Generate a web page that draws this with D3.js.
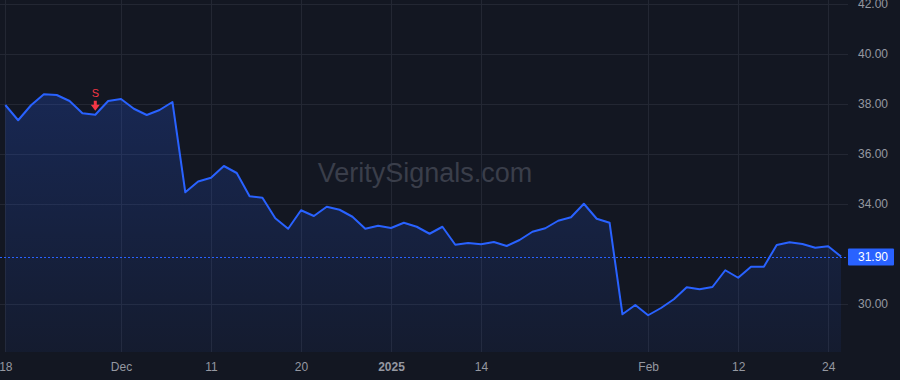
<!DOCTYPE html>
<html>
<head>
<meta charset="utf-8">
<script src="https://cdn.jsdelivr.net/npm/d3@7"></script>
<style>
  body { margin: 0; background: #131722; }
  svg { display: block; }
</style>
</head>
<body>
<div id="chart"></div>
<script>
// trading days shown on the chart
const dates = [
  "2024-11-18","2024-11-19","2024-11-20","2024-11-21","2024-11-22","2024-11-25","2024-11-26","2024-11-27","2024-11-29",
  "2024-12-02","2024-12-03","2024-12-04","2024-12-05","2024-12-06","2024-12-09","2024-12-10","2024-12-11","2024-12-12",
  "2024-12-13","2024-12-16","2024-12-17","2024-12-18","2024-12-19","2024-12-20","2024-12-23","2024-12-24","2024-12-26",
  "2024-12-27","2024-12-30","2024-12-31",
  "2025-01-02","2025-01-03","2025-01-06","2025-01-07","2025-01-08","2025-01-10","2025-01-13","2025-01-14","2025-01-15",
  "2025-01-16","2025-01-17","2025-01-21","2025-01-22","2025-01-23","2025-01-24","2025-01-27","2025-01-28","2025-01-29",
  "2025-01-30","2025-01-31",
  "2025-02-03","2025-02-04","2025-02-05","2025-02-06","2025-02-07","2025-02-10","2025-02-11","2025-02-12","2025-02-13",
  "2025-02-14","2025-02-18","2025-02-19","2025-02-20","2025-02-21","2025-02-24","2025-02-25"
];

const prices = [
  37.96, 37.35, 37.95, 38.39, 38.36, 38.12, 37.63, 37.57, 38.12,
  38.20, 37.81, 37.56, 37.76, 38.08, 34.47, 34.90, 35.05, 35.52,
  35.24, 34.31, 34.25, 33.43, 33.01, 33.75, 33.52, 33.89, 33.77,
  33.49, 33.01, 33.13,
  33.04, 33.25, 33.09, 32.81, 33.09, 32.37, 32.44, 32.39, 32.48,
  32.32, 32.56, 32.89, 33.03, 33.33, 33.47, 34.01, 33.41, 33.25,
  29.59, 29.96,
  29.55, 29.84, 30.19, 30.67, 30.59, 30.68, 31.35, 31.05, 31.49,
  31.49, 32.36, 32.47, 32.40, 32.25, 32.31, 31.90
];

// x-axis tick dates and their labels
const xTickDates = ["2024-11-18","2024-12-02","2024-12-11","2024-12-20","2025-01-02","2025-01-14","2025-02-03","2025-02-12","2025-02-24"];
const xTickLabels = ["18","Dec","11","20","2025","14","Feb","12","24"];

const yTicks = [30, 34, 36, 38, 40, 42];

// sell signal
const signalDates = ["2024-11-27"];
const signalLabels = ["S"];

const lastPrice = prices[prices.length - 1];

const W = 900, H = 380;
const plotRight = 848, plotBottom = 352;

const svg = d3.select("#chart").append("svg")
  .attr("width", W)
  .attr("height", H)
  .style("background", "#131722");

const x = d3.scalePoint()
  .domain(dates)
  .range([5.3, 841]);

const y = d3.scaleLinear()
  .domain([30, 42])
  .range([304, 4]);

const font = "'Liberation Sans', Arial, sans-serif";

// grid
svg.append("g")
  .selectAll("line")
  .data(yTicks)
  .join("line")
    .attr("x1", 0)
    .attr("x2", plotRight)
    .attr("y1", d => Math.round(y(d)) + 0.5)
    .attr("y2", d => Math.round(y(d)) + 0.5)
    .attr("stroke", "#232733");

svg.append("g")
  .selectAll("line")
  .data(xTickDates)
  .join("line")
    .attr("x1", d => Math.round(x(d)) + 0.5)
    .attr("x2", d => Math.round(x(d)) + 0.5)
    .attr("y1", 0)
    .attr("y2", plotBottom)
    .attr("stroke", "#232733");

// watermark
svg.append("text")
  .attr("x", 425)
  .attr("y", 182)
  .attr("text-anchor", "middle")
  .style("font-family", font)
  .style("font-size", "27px")
  .style("fill", "#3a3e4a")
  .text("VeritySignals.com");

// area
const grad = svg.append("defs").append("linearGradient")
  .attr("id", "areaGrad")
  .attr("gradientUnits", "userSpaceOnUse")
  .attr("x1", 0).attr("x2", 0)
  .attr("y1", y(d3.max(prices))).attr("y2", plotBottom);
grad.append("stop").attr("offset", 0).attr("stop-color", "#2962ff").attr("stop-opacity", 0.22);
grad.append("stop").attr("offset", 1).attr("stop-color", "#2962ff").attr("stop-opacity", 0.06);

const data = dates.map((d, i) => ({ date: d, price: prices[i] }));

svg.append("path")
  .datum(data)
  .attr("fill", "url(#areaGrad)")
  .attr("d", d3.area()
    .x(d => x(d.date))
    .y0(plotBottom)
    .y1(d => y(d.price)));

// last price dashed line
svg.append("line")
  .attr("x1", 0)
  .attr("x2", plotRight)
  .attr("y1", Math.round(y(lastPrice)) + 0.5)
  .attr("y2", Math.round(y(lastPrice)) + 0.5)
  .attr("stroke", "#2962ff")
  .attr("stroke-width", 1)
  .attr("stroke-dasharray", "2,2");

// price line
svg.append("path")
  .datum(data)
  .attr("fill", "none")
  .attr("stroke", "#2962ff")
  .attr("stroke-width", 2)
  .attr("stroke-linejoin", "round")
  .attr("d", d3.line()
    .x(d => x(d.date))
    .y(d => y(d.price)));

// signal markers
signalDates.forEach((sd, i) => {
  const p = prices[dates.indexOf(sd)];
  const cx = x(sd), top = y(p) - 14;
  const g = svg.append("g");
  g.append("path")
    .attr("d", `M${cx - 1.5},${top} L${cx + 1.5},${top} L${cx + 1.5},${top + 4} L${cx + 4.5},${top + 4} L${cx},${top + 10} L${cx - 4.5},${top + 4} L${cx - 1.5},${top + 4} Z`)
    .attr("fill", "#f23645");
  g.append("text")
    .attr("x", cx)
    .attr("y", top - 4)
    .attr("text-anchor", "middle")
    .style("font-family", font)
    .style("font-size", "11px")
    .style("fill", "#f23645")
    .text(signalLabels[i]);
});

// y axis (right)
const yAxis = svg.append("g")
  .attr("transform", `translate(${plotRight},0)`)
  .call(d3.axisRight(y).tickValues(yTicks).tickSize(0).tickPadding(10).tickFormat(d3.format(".2f")));
yAxis.select(".domain").remove();
yAxis.selectAll("text")
  .style("font-family", font)
  .style("font-size", "12px")
  .style("fill", "#9598a1");

// x axis
const xAxis = svg.append("g")
  .attr("transform", `translate(0,${plotBottom})`)
  .call(d3.axisBottom(x).tickValues(xTickDates).tickSize(0).tickPadding(10)
    .tickFormat((d, i) => xTickLabels[i]));
xAxis.select(".domain").remove();
xAxis.selectAll("text")
  .style("font-family", font)
  .style("font-size", "12px")
  .style("fill", "#9598a1")
  .style("font-weight", (d, i) => xTickLabels[i] === "2025" ? "bold" : "normal");

// last price label
svg.append("rect")
  .attr("x", plotRight)
  .attr("y", y(lastPrice) - 8)
  .attr("width", 46)
  .attr("height", 17)
  .attr("rx", 1)
  .attr("fill", "#2962ff");
svg.append("text")
  .attr("x", plotRight + 10)
  .attr("y", y(lastPrice))
  .attr("dy", "0.35em")
  .style("font-family", font)
  .style("font-size", "12px")
  .style("fill", "#ffffff")
  .text(lastPrice.toFixed(2));
</script>
</body>
</html>
